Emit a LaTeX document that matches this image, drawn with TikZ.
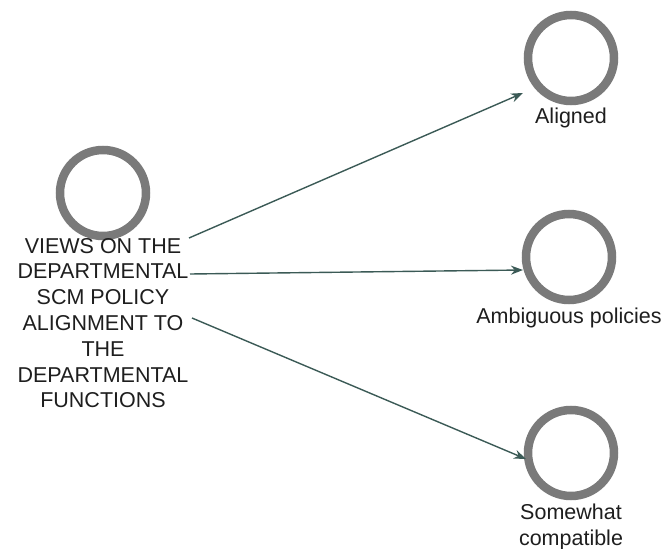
\documentclass[tikz,border=0pt]{standalone}
\usepackage{fontspec}
\setmainfont{Liberation Sans}
\usetikzlibrary{arrows.meta}
\definecolor{ringgrey}{HTML}{7A7A7A}
\definecolor{linkteal}{HTML}{3B5A56}
\definecolor{labelink}{HTML}{1E1E1E}
\begin{document}
\begin{tikzpicture}[x=1pt,y=-1pt,
  ring/.style={circle,draw=ringgrey,line width=8.5pt,minimum size=86pt,inner sep=0pt,fill=white},
  caption/.style={align=center,inner sep=0pt,text=labelink,
    font=\fontsize{21.5}{25.8}\selectfont},
  link/.style={draw=linkteal,line width=1.4pt,-{Stealth[length=12pt,width=9pt]}}]
  \useasboundingbox (0,0) rectangle (667,549);
  % root concept
  \node[ring] (root) at (103,193) {};
  \node[caption] (rootlbl) at (103,323) {VIEWS ON THE\\DEPARTMENTAL\\SCM POLICY\\ALIGNMENT TO\\THE\\DEPARTMENTAL\\FUNCTIONS};
  % outcome concepts
  \node[ring] (aligned) at (571,58) {};
  \node[caption] (alignedlbl) at (571,118) {Aligned};
  \node[ring] (ambig) at (569,257) {};
  \node[caption] (ambiglbl) at (569,318) {Ambiguous policies};
  \node[ring] (somewhat) at (571,453) {};
  \node[caption] (somewhatlbl) at (571,527) {Somewhat\\compatible};
  % connector ends
  \coordinate (s1) at (189,238);
  \coordinate (s2) at (190,274);
  \coordinate (s3) at (192,318);
  \coordinate (t1) at (523,93);
  \coordinate (t2) at (523,270);
  \coordinate (t3) at (526,459);
  \draw[link] (s1) -- (t1);
  \draw[link] (s2) -- (t2);
  \draw[link] (s3) -- (t3);
\end{tikzpicture}
\end{document}
